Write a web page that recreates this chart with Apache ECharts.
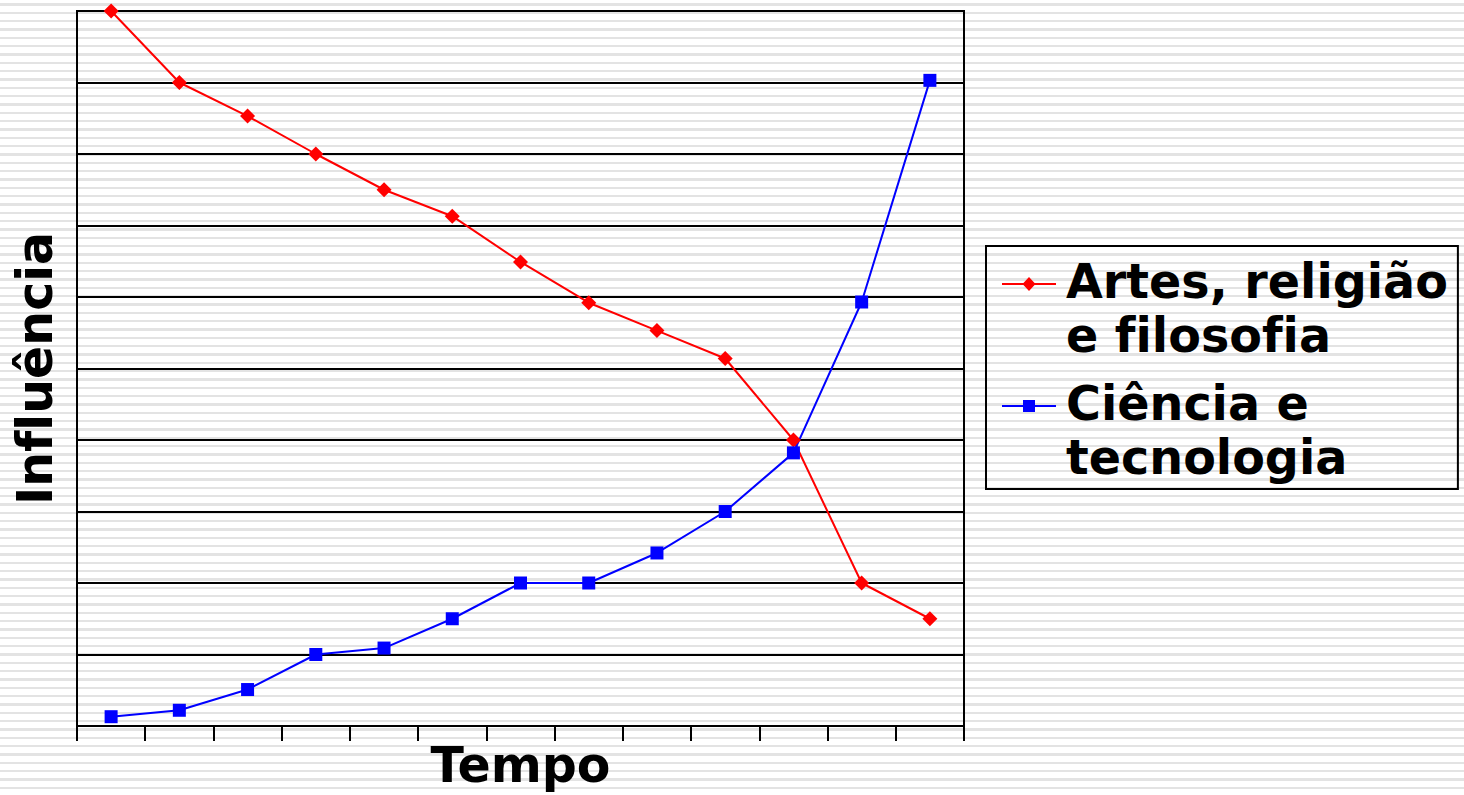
<!DOCTYPE html>
<html>
<head>
<meta charset="utf-8">
<script src="https://cdn.jsdelivr.net/npm/echarts@6/dist/echarts.min.js"></script>
<style>
html, body { margin: 0; padding: 0; }
body {
  background: repeating-linear-gradient(to bottom, #ffffff 0px, #ffffff 3.3px, #e3e3e3 3.3px, #e3e3e3 5.6px, #ffffff 5.6px, #ffffff 8.333px);
}
#chart { width: 1464px; height: 795px; }
#chart text { font-variant-ligatures: none; font-feature-settings: "liga" 0, "clig" 0; }
</style>
</head>
<body>
<div id="chart"></div>
<script>
// ---- data ----
const periods = ['1', '2', '3', '4', '5', '6', '7', '8', '9', '10', '11', '12', '13'];
const artesValues = [10, 9, 8.53, 8, 7.5, 7.13, 6.49, 5.92, 5.53, 5.14, 4, 2, 1.5];
const cienciaValues = [0.13, 0.22, 0.51, 1.0, 1.09, 1.5, 2, 2, 2.42, 3, 3.82, 5.93, 9.03];
const seriesNames = ['Artes, religião\ne filosofia', 'Ciência e\ntecnologia'];
const xAxisTitle = 'Tempo';
const yAxisTitle = 'Influência';
const yMin = 0, yMax = 10, yStep = 1;

const FONT = 'DejaVu Sans';
const titleStyle = { fontFamily: FONT, fontWeight: 'bold', fontSize: 49, color: '#000' };

// legend icons: line + marker drawn at the first text line of a 54x108 item box
const ANCHORS = 'M0 0 L0.01 0 Z M54 108 L53.99 108 Z ';
const LINE_PART = 'M0 29 H54 V31 H0 Z ';
const diamondIcon = 'path://' + ANCHORS + LINE_PART + 'M27 23 L33.5 30 L27 37 L20.5 30 Z';
const squareIcon = 'path://' + ANCHORS + LINE_PART + 'M21 24 H33 V36 H21 Z';

const chart = echarts.init(document.getElementById('chart'), null, { renderer: 'svg' });
chart.setOption({
  animation: false,
  backgroundColor: 'transparent',
  grid: {
    left: 77, right: 500, top: 11, bottom: 69,
    show: true, borderColor: '#000', borderWidth: 2, backgroundColor: 'transparent'
  },
  legend: {
    orient: 'vertical',
    left: 986, top: 246,
    itemWidth: 54, itemHeight: 108, itemGap: 14,
    padding: [8, 10, 5, 16],
    borderColor: '#000', borderWidth: 2,
    backgroundColor: 'transparent',
    itemStyle: { borderWidth: 0 },
    textStyle: {
      fontFamily: FONT, fontWeight: 'bold', fontSize: 47.6, color: '#000',
      lineHeight: 54, padding: [0, 0, 0, 5]
    },
    data: [
      { name: seriesNames[0], icon: diamondIcon },
      { name: seriesNames[1], icon: squareIcon }
    ]
  },
  xAxis: {
    type: 'category',
    data: periods,
    boundaryGap: true,
    axisLine: { show: true, lineStyle: { color: '#000', width: 2 } },
    axisTick: { show: true, interval: 0, length: 15, lineStyle: { color: '#000', width: 2 } },
    axisLabel: { show: false },
    splitLine: { show: false },
    name: xAxisTitle,
    nameLocation: 'middle',
    nameGap: 15,
    nameTextStyle: titleStyle
  },
  yAxis: {
    type: 'value',
    min: yMin, max: yMax, interval: yStep,
    axisLine: { show: true, lineStyle: { color: '#000', width: 2 } },
    axisTick: { show: false },
    axisLabel: { show: false },
    splitLine: { show: true, lineStyle: { color: '#000', width: 2 } },
    name: yAxisTitle,
    nameLocation: 'middle',
    nameGap: 17,
    nameRotate: 90,
    nameTextStyle: titleStyle
  },
  series: [
    {
      name: seriesNames[0],
      type: 'line',
      data: artesValues,
      symbol: 'diamond',
      symbolSize: 15,
      itemStyle: { color: '#ff0000' },
      lineStyle: { color: '#ff0000', width: 2 }
    },
    {
      name: seriesNames[1],
      type: 'line',
      data: cienciaValues,
      symbol: 'rect',
      symbolSize: 13,
      itemStyle: { color: '#0000ff' },
      lineStyle: { color: '#0000ff', width: 2 }
    }
  ]
});
</script>
</body>
</html>
